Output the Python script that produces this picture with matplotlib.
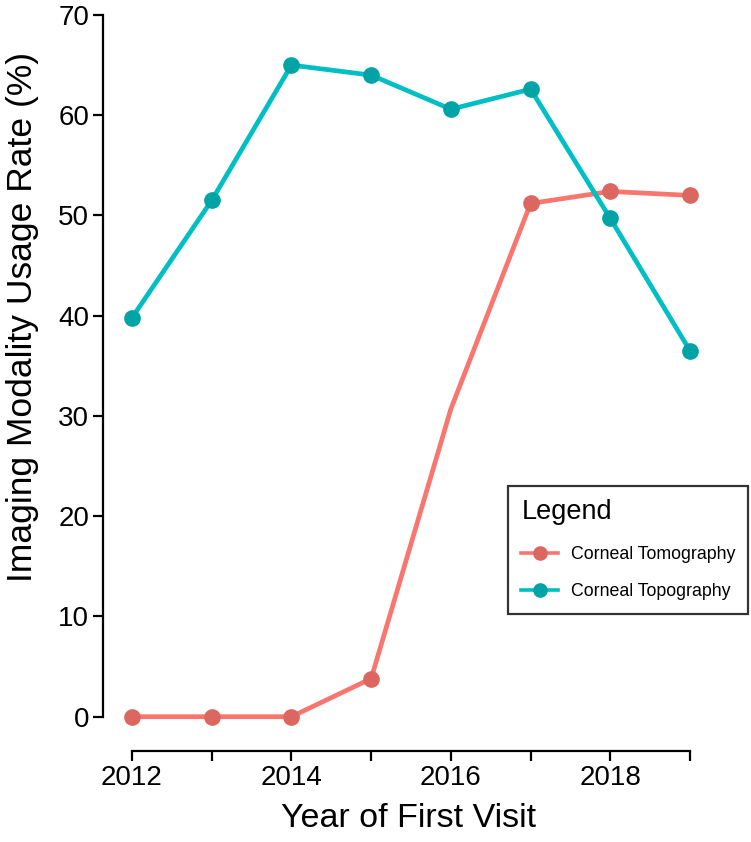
import matplotlib.pyplot as plt
import numpy as np

plt.rcParams['font.family'] = ['Liberation Sans', 'DejaVu Sans']

years = [2012, 2013, 2014, 2015, 2016, 2017, 2018, 2019]
tomography = [0, 0, 0, 3.8, 30.7, 51.2, 52.4, 52.0]
topography = [39.8, 51.5, 65.0, 64.0, 60.6, 62.6, 49.7, 36.5]
x_ticks = [2012, 2014, 2016, 2018]
y_ticks = [0, 10, 20, 30, 40, 50, 60, 70]

fig = plt.figure(figsize=(7.51, 8.42), dpi=100)
ax = fig.add_axes([0.1371, 0.1081, 0.8136, 0.8741])

# tomography: no marker drawn at 2016 in the original
ax.plot(years, tomography, color='#F8766D', lw=3.4,
        marker='o', ms=11, mfc='#DB6760', mec='#DB6760',
        markevery=[0, 1, 2, 3, 5, 6, 7], label='Corneal Tomography', zorder=3)
ax.plot(years, topography, color='#00BFC4', lw=3.4,
        marker='o', ms=11, mfc='#00A3A6', mec='#00A3A6',
        label='Corneal Topography', zorder=3)

ax.set_xlim(2011.636, 2019.3)
ax.set_ylim(-3.42, 70)
ax.spines['top'].set_visible(False)
ax.spines['right'].set_visible(False)
ax.spines['left'].set_bounds(0, 70)
ax.spines['bottom'].set_bounds(2012, 2019)
for s in ['left', 'bottom']:
    ax.spines[s].set_linewidth(1.6)
    ax.spines[s].set_capstyle('projecting')

ax.set_xticks(np.arange(2012, 2020))
ax.set_xticklabels([str(y) if y in x_ticks else '' for y in range(2012, 2020)])
ax.set_yticks(y_ticks)
ax.tick_params(axis='both', labelsize=20, width=1.6, length=7, pad=3)

ax.set_xlabel('Year of First Visit', fontsize=24.5, labelpad=9)
ax.set_ylabel('Imaging Modality Usage Rate (%)', fontsize=25.5)
ax.yaxis.set_label_coords(-0.105, 0.59)

leg = ax.legend(title='Legend', loc='upper left', bbox_to_anchor=(0.6764, 0.4228),
                bbox_transform=fig.transFigure, fontsize=12.8, title_fontsize=19.5,
                frameon=True, fancybox=False, edgecolor='black', borderpad=0.75,
                handlelength=2.05, labelspacing=1.15, handletextpad=0.72,
                borderaxespad=0)
leg.get_frame().set_linewidth(1.6)
leg._legend_box.align = 'left'
for h in leg.legend_handles:
    h.set_markersize(9.5)
    h.set_linewidth(2.6)

fig.savefig('out.png', dpi=100)
